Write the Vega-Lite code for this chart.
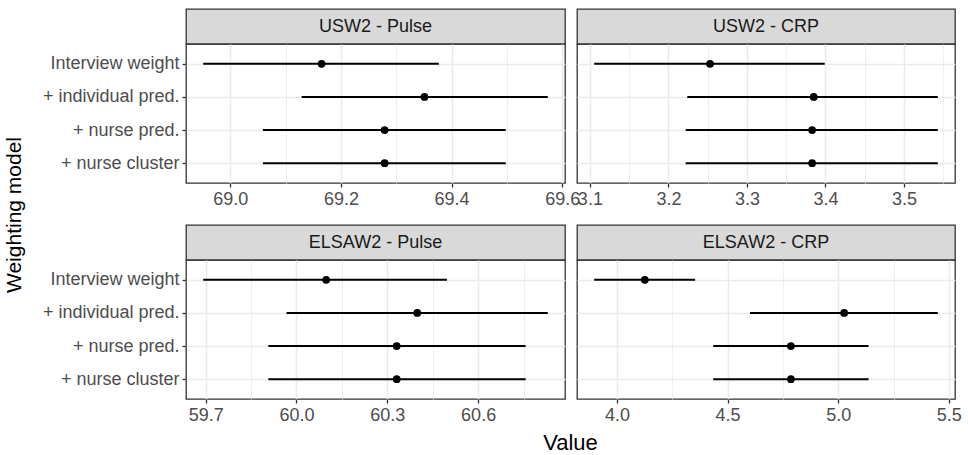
{
  "$schema": "https://vega.github.io/schema/vega-lite/v6.json",
  "padding": {"left": 3, "top": 8, "right": 5, "bottom": 0},
  "background": "white",
  "config": {
    "font": "Liberation Sans",
    "view": {"stroke": "#333333", "strokeWidth": 1.3},
    "axis": {
      "labelFont": "Liberation Sans",
      "labelFontSize": 18,
      "labelColor": "#4d4d4d",
      "tickColor": "#333333",
      "tickSize": 4,
      "tickWidth": 1.3,
      "domain": false,
      "gridColor": "#ebebeb",
      "gridWidth": 1.6,
      "labelPadding": 3,
      "labelFlush": false,
      "labelOverlap": false,
      "titleFont": "Liberation Sans",
      "titleFontWeight": "normal",
      "titleFontSize": 22,
      "titleColor": "#000000"
    },
    "title": {"font": "Liberation Sans", "fontWeight": "normal", "fontSize": 21, "color": "#000000"}
  },
  "title": {"text": "Weighting model", "orient": "left", "anchor": "middle", "offset": 17, "dx": 16},
  "datasets": {
    "d": [
      {"panel": "USW2 - Pulse", "model": "Interview weight", "est": 69.165, "lo": 68.951, "hi": 69.377},
      {"panel": "USW2 - Pulse", "model": "+ individual pred.", "est": 69.351, "lo": 69.129, "hi": 69.574},
      {"panel": "USW2 - Pulse", "model": "+ nurse pred.", "est": 69.279, "lo": 69.059, "hi": 69.498},
      {"panel": "USW2 - Pulse", "model": "+ nurse cluster", "est": 69.279, "lo": 69.059, "hi": 69.498},
      {"panel": "USW2 - CRP", "model": "Interview weight", "est": 3.253, "lo": 3.1055, "hi": 3.399},
      {"panel": "USW2 - CRP", "model": "+ individual pred.", "est": 3.385, "lo": 3.224, "hi": 3.543},
      {"panel": "USW2 - CRP", "model": "+ nurse pred.", "est": 3.383, "lo": 3.222, "hi": 3.543},
      {"panel": "USW2 - CRP", "model": "+ nurse cluster", "est": 3.383, "lo": 3.222, "hi": 3.543},
      {"panel": "ELSAW2 - Pulse", "model": "Interview weight", "est": 60.098, "lo": 59.692, "hi": 60.497},
      {"panel": "ELSAW2 - Pulse", "model": "+ individual pred.", "est": 60.399, "lo": 59.967, "hi": 60.83},
      {"panel": "ELSAW2 - Pulse", "model": "+ nurse pred.", "est": 60.331, "lo": 59.907, "hi": 60.757},
      {"panel": "ELSAW2 - Pulse", "model": "+ nurse cluster", "est": 60.331, "lo": 59.907, "hi": 60.757},
      {"panel": "ELSAW2 - CRP", "model": "Interview weight", "est": 4.126, "lo": 3.897, "hi": 4.353},
      {"panel": "ELSAW2 - CRP", "model": "+ individual pred.", "est": 5.027, "lo": 4.601, "hi": 5.45},
      {"panel": "ELSAW2 - CRP", "model": "+ nurse pred.", "est": 4.786, "lo": 4.435, "hi": 5.137},
      {"panel": "ELSAW2 - CRP", "model": "+ nurse cluster", "est": 4.786, "lo": 4.435, "hi": 5.137}
    ]
  },
  "bounds": "flush",
  "columns": 2,
  "spacing": {"row": 0, "column": 12},
  "concat": [
    {
      "width": 379, "height": 35,
      "view": {"fill": "#d9d9d9", "stroke": "#333333", "strokeWidth": 1.3},
      "data": {"values": [{"label": "USW2 - Pulse"}]},
      "mark": {"type": "text", "fontSize": 18, "color": "#1a1a1a", "font": "Liberation Sans"},
      "encoding": {"text": {"field": "label", "type": "nominal"}}
    },
    {
      "width": 378, "height": 35,
      "view": {"fill": "#d9d9d9", "stroke": "#333333", "strokeWidth": 1.3},
      "data": {"values": [{"label": "USW2 - CRP"}]},
      "mark": {"type": "text", "fontSize": 18, "color": "#1a1a1a", "font": "Liberation Sans"},
      "encoding": {"text": {"field": "label", "type": "nominal"}}
    },
    {
      "width": 379, "height": 139,
      "data": {"name": "d"},
      "transform": [{"filter": "datum.panel === 'USW2 - Pulse'"}],
      "resolve": {"axis": {"x": "independent"}},
      "layer": [
        {
          "mark": {"type": "rule", "strokeWidth": 2, "color": "#000000"},
          "encoding": {
            "x": {"field": "lo", "type": "quantitative", "scale": {"domain": [68.9199, 69.6051], "nice": false, "zero": false},
                  "axis": {"values": [69.0, 69.2, 69.4, 69.6], "format": ".1f", "title": null, "grid": true}},
            "x2": {"field": "hi"},
            "y": {"field": "model", "type": "nominal", "sort": ["Interview weight", "+ individual pred.", "+ nurse pred.", "+ nurse cluster"],
                  "scale": {"type": "point", "padding": 0.6}, "axis": {"title": null, "grid": true}}
          }
        },
        {
          "mark": {"type": "point", "filled": true, "size": 60, "color": "#000000", "opacity": 1},
          "encoding": {
            "x": {"field": "est", "type": "quantitative",
                  "axis": {"orient": "top", "values": [69.1, 69.3, 69.5], "labels": false, "ticks": false, "domain": false, "grid": true, "gridWidth": 0.8, "title": null}},
            "y": {"field": "model", "type": "nominal", "sort": ["Interview weight", "+ individual pred.", "+ nurse pred.", "+ nurse cluster"]}
          }
        }
      ]
    },
    {
      "width": 378, "height": 139,
      "data": {"name": "d"},
      "transform": [{"filter": "datum.panel === 'USW2 - CRP'"}],
      "resolve": {"axis": {"x": "independent"}},
      "layer": [
        {
          "mark": {"type": "rule", "strokeWidth": 2, "color": "#000000"},
          "encoding": {
            "x": {"field": "lo", "type": "quantitative", "scale": {"domain": [3.0836, 3.5649], "nice": false, "zero": false},
                  "axis": {"values": [3.1, 3.2, 3.3, 3.4, 3.5], "format": ".1f", "title": null, "grid": true}},
            "x2": {"field": "hi"},
            "y": {"field": "model", "type": "nominal", "sort": ["Interview weight", "+ individual pred.", "+ nurse pred.", "+ nurse cluster"],
                  "scale": {"type": "point", "padding": 0.6}, "axis": {"title": null, "grid": true, "labels": false, "ticks": false}}
          }
        },
        {
          "mark": {"type": "point", "filled": true, "size": 60, "color": "#000000", "opacity": 1},
          "encoding": {
            "x": {"field": "est", "type": "quantitative",
                  "axis": {"orient": "top", "values": [3.15, 3.25, 3.35, 3.45, 3.55], "labels": false, "ticks": false, "domain": false, "grid": true, "gridWidth": 0.8, "title": null}},
            "y": {"field": "model", "type": "nominal", "sort": ["Interview weight", "+ individual pred.", "+ nurse pred.", "+ nurse cluster"]}
          }
        }
      ]
    },
    {
      "width": 379, "height": 42,
      "view": {"stroke": null},
      "data": {"values": []},
      "mark": "point",
      "encoding": {}
    },
    {
      "width": 378, "height": 42,
      "view": {"stroke": null},
      "data": {"values": []},
      "mark": "point",
      "encoding": {}
    },
    {
      "width": 379, "height": 35,
      "view": {"fill": "#d9d9d9", "stroke": "#333333", "strokeWidth": 1.3},
      "data": {"values": [{"label": "ELSAW2 - Pulse"}]},
      "mark": {"type": "text", "fontSize": 18, "color": "#1a1a1a", "font": "Liberation Sans"},
      "encoding": {"text": {"field": "label", "type": "nominal"}}
    },
    {
      "width": 378, "height": 35,
      "view": {"fill": "#d9d9d9", "stroke": "#333333", "strokeWidth": 1.3},
      "data": {"values": [{"label": "ELSAW2 - CRP"}]},
      "mark": {"type": "text", "fontSize": 18, "color": "#1a1a1a", "font": "Liberation Sans"},
      "encoding": {"text": {"field": "label", "type": "nominal"}}
    },
    {
      "width": 379, "height": 139,
      "data": {"name": "d"},
      "transform": [{"filter": "datum.panel === 'ELSAW2 - Pulse'"}],
      "resolve": {"axis": {"x": "independent"}},
      "layer": [
        {
          "mark": {"type": "rule", "strokeWidth": 2, "color": "#000000"},
          "encoding": {
            "x": {"field": "lo", "type": "quantitative", "scale": {"domain": [59.635, 60.887], "nice": false, "zero": false},
                  "axis": {"values": [59.7, 60.0, 60.3, 60.6], "format": ".1f", "title": "Value", "titleX": 384, "titlePadding": 8, "grid": true}},
            "x2": {"field": "hi"},
            "y": {"field": "model", "type": "nominal", "sort": ["Interview weight", "+ individual pred.", "+ nurse pred.", "+ nurse cluster"],
                  "scale": {"type": "point", "padding": 0.6}, "axis": {"title": null, "grid": true}}
          }
        },
        {
          "mark": {"type": "point", "filled": true, "size": 60, "color": "#000000", "opacity": 1},
          "encoding": {
            "x": {"field": "est", "type": "quantitative",
                  "axis": {"orient": "top", "values": [59.85, 60.15, 60.45, 60.75], "labels": false, "ticks": false, "domain": false, "grid": true, "gridWidth": 0.8, "title": null}},
            "y": {"field": "model", "type": "nominal", "sort": ["Interview weight", "+ individual pred.", "+ nurse pred.", "+ nurse cluster"]}
          }
        }
      ]
    },
    {
      "width": 378, "height": 139,
      "data": {"name": "d"},
      "transform": [{"filter": "datum.panel === 'ELSAW2 - CRP'"}],
      "resolve": {"axis": {"x": "independent"}},
      "layer": [
        {
          "mark": {"type": "rule", "strokeWidth": 2, "color": "#000000"},
          "encoding": {
            "x": {"field": "lo", "type": "quantitative", "scale": {"domain": [3.8194, 5.5277], "nice": false, "zero": false},
                  "axis": {"values": [4.0, 4.5, 5.0, 5.5], "format": ".1f", "title": null, "grid": true}},
            "x2": {"field": "hi"},
            "y": {"field": "model", "type": "nominal", "sort": ["Interview weight", "+ individual pred.", "+ nurse pred.", "+ nurse cluster"],
                  "scale": {"type": "point", "padding": 0.6}, "axis": {"title": null, "grid": true, "labels": false, "ticks": false}}
          }
        },
        {
          "mark": {"type": "point", "filled": true, "size": 60, "color": "#000000", "opacity": 1},
          "encoding": {
            "x": {"field": "est", "type": "quantitative",
                  "axis": {"orient": "top", "values": [4.25, 4.75, 5.25], "labels": false, "ticks": false, "domain": false, "grid": true, "gridWidth": 0.8, "title": null}},
            "y": {"field": "model", "type": "nominal", "sort": ["Interview weight", "+ individual pred.", "+ nurse pred.", "+ nurse cluster"]}
          }
        }
      ]
    }
  ]
}
